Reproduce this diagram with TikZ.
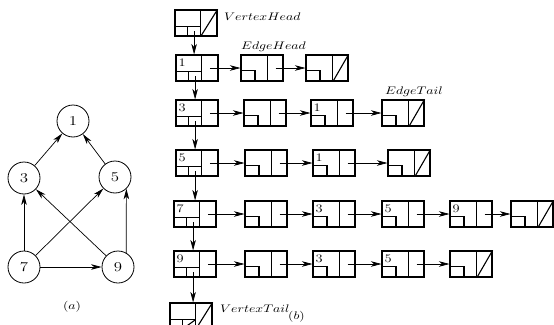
\documentclass[tikz,border=0pt]{standalone}
\usetikzlibrary{arrows.meta}

\newcommand\wide[1]{\scalebox{1.25}[1]{#1}}

\tikzset{
  ptr/.style   = {-{Stealth[length=10.5pt,width=5.5pt,inset=3pt]}, line width=0.7pt},
  vbox/.style  = {draw, line width=1.1pt, minimum width=42pt, minimum height=26pt,
                  inner sep=0pt,
                  path picture={\draw[line width=1.1pt,
                                      shift={(path picture bounding box.center)}]
                    (4.6,-13) -- (4.6,13) (-21,3.6) -- (4.6,3.6) (-8.4,3.6) -- (-8.4,13);}},
  ebox/.style  = {draw, line width=1.1pt, minimum width=42pt, minimum height=26pt,
                  inner sep=0pt,
                  path picture={\draw[line width=1.1pt,
                                      shift={(path picture bounding box.center)}]
                    (5.9,-13) -- (5.9,13) (-21,2.6) -- (-7,2.6) -- (-7,13);}},
  num/.style   = {anchor=north west, inner xsep=3pt, inner ysep=4pt,
                  font=\fontsize{11.5}{13}\selectfont},
  vert/.style  = {circle, draw, line width=0.8pt, minimum size=32pt, inner sep=0pt,
                  font=\fontsize{13.5}{15}\selectfont},
  lbl/.style   = {anchor=base west, inner sep=0pt, font=\fontsize{11}{13}\selectfont}
}

\begin{document}
\begin{tikzpicture}[x=1pt, y=-1pt]
  \useasboundingbox (0,0) rectangle (554,324);

  % (a) the graph
  \node[vert] (n1) at (73,121) {\wide{1}};
  \node[vert] (n3) at (24,178) {\wide{3}};
  \node[vert] (n5) at (115,177) {\wide{5}};
  \node[vert] (n7) at (24,267) {\wide{7}};
  \node[vert] (n9) at (118,267) {\wide{9}};
  \foreach \a/\b in {n3/n1, n5/n1, n7/n3, n7/n5, n9/n3, n7/n9}
    \draw[ptr] (\a) -- (\b);
  \draw[ptr] (n9.60) -- (n5.314);
  \node[anchor=base, inner sep=0pt, font=\fontsize{11}{13}\selectfont] (capa) at (72,309) {\wide{$(a)$}};

  % (b) vertex list
  \node[vbox] (vh) at (196,23) {};
  \node[vbox, label={[num]north west:\wide{1}}] (v1) at (197,68) {};
  \node[vbox, label={[num]north west:\wide{3}}] (v3) at (197,113) {};
  \node[vbox, label={[num]north west:\wide{5}}] (v5) at (197,163) {};
  \node[vbox, label={[num]north west:\wide{7}}] (v7) at (195,214) {};
  \node[vbox, label={[num]north west:\wide{9}}] (v9) at (195,264) {};
  \node[vbox] (vt) at (191,316) {};
  \draw[line width=1.1pt] ([xshift=4.6pt]vh.south) -- (vh.north east);
  \draw[line width=1.1pt] ([xshift=4.6pt]vt.south) -- (vt.north east);
  \draw[line width=1.1pt] ([shift={(-8.4,13)}]vt.center) -- ([shift={(4.6,3.6)}]vt.center);
  \foreach \a/\b in {vh/v1, v1/v3, v3/v5, v5/v7, v7/v9, v9/vt} {
    \coordinate (p) at ([shift={(-1.9,8.3)}]\a.center);
    \draw[ptr] (p) -- (p |- \b.north);
  }

  % edge lists
  \node[ebox] (e1a) at (262,68) {};
  \node[ebox] (e1b) at (327,68) {};
  \node[ebox] (e3a) at (265,113) {};
  \node[ebox, label={[num]north west:\wide{1}}] (e3b) at (332,113) {};
  \node[ebox] (e3c) at (403,113) {};
  \node[ebox] (e5a) at (266,163) {};
  \node[ebox, label={[num]north west:\wide{1}}] (e5b) at (334,163) {};
  \node[ebox] (e5c) at (409,163) {};
  \node[ebox] (e7a) at (266,214) {};
  \node[ebox, label={[num]north west:\wide{3}}] (e7b) at (334,214) {};
  \node[ebox, label={[num]north west:\wide{5}}] (e7c) at (403,214) {};
  \node[ebox, label={[num]north west:\wide{9}}] (e7d) at (471,214) {};
  \node[ebox] (e7e) at (532,214) {};
  \node[ebox] (e9a) at (266,264) {};
  \node[ebox, label={[num]north west:\wide{3}}] (e9b) at (334,264) {};
  \node[ebox, label={[num]north west:\wide{5}}] (e9c) at (403,264) {};
  \node[ebox] (e9d) at (471,264) {};
  \foreach \e in {e1b, e3c, e5c, e7e, e9d}
    \draw[line width=1.1pt] ([xshift=5.9pt]\e.south) -- (\e.north east);

  \foreach \a/\b in {v1/e1a, v3/e3a, v5/e5a, v7/e7a, v9/e9a}
    \draw[ptr] ([xshift=12.8pt]\a.center) -- (\b.west);
  \foreach \a/\b in {e1a/e1b, e3a/e3b, e3b/e3c, e5a/e5b, e5b/e5c,
                     e7a/e7b, e7b/e7c, e7c/e7d, e7d/e7e, e9a/e9b, e9b/e9c, e9c/e9d}
    \draw[ptr] ([xshift=13.5pt]\a.center) -- (\b.west);

  % names
  \node[lbl] (vhl) at (224,20.5) {\wide{$VertexHead$}};
  \node[lbl] (ehl) at (241,49.5) {\wide{$EdgeHead$}};
  \node[lbl] (etl) at (385,94) {\wide{$EdgeTail$}};
  \node[lbl] (vtl) at (220,312) {\wide{$VertexTail$}};
  \node[lbl] (capb) at (288,319) {\wide{$(b)$}};
\end{tikzpicture}
\end{document}
